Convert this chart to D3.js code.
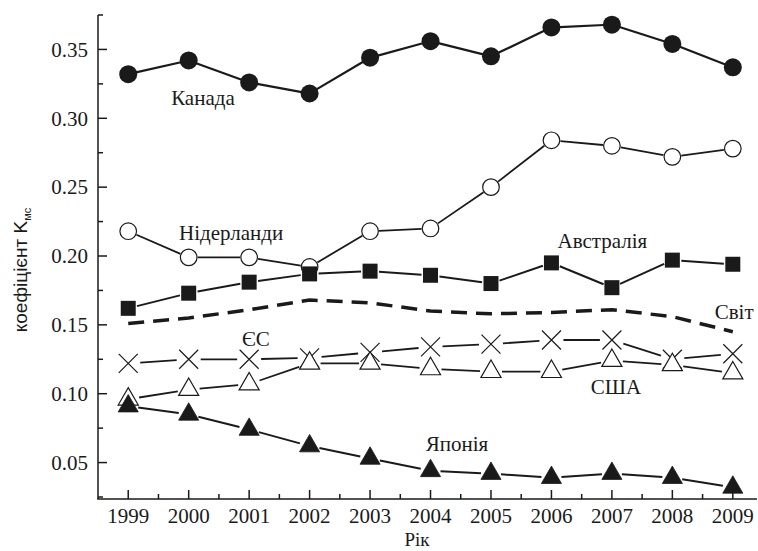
<!DOCTYPE html>
<html>
<head>
<meta charset="utf-8">
<script src="https://cdn.jsdelivr.net/npm/d3@7"></script>
<style>
  body { margin: 0; background: #fff; }
  svg { display: block; }
</style>
</head>
<body>
<svg id="chart" width="758" height="551"></svg>
<script>
// data
const years = [1999, 2000, 2001, 2002, 2003, 2004, 2005, 2006, 2007, 2008, 2009];
const canada      = [0.332, 0.342, 0.326, 0.318, 0.344, 0.356, 0.345, 0.366, 0.368, 0.354, 0.337];
const netherlands = [0.218, 0.199, 0.199, 0.192, 0.218, 0.220, 0.250, 0.284, 0.280, 0.272, 0.278];
const australia   = [0.162, 0.173, 0.181, 0.187, 0.189, 0.186, 0.180, 0.195, 0.177, 0.197, 0.194];
const world       = [0.151, 0.155, 0.161, 0.168, 0.166, 0.160, 0.158, 0.159, 0.161, 0.156, 0.145];
const eu          = [0.122, 0.125, 0.125, 0.126, 0.130, 0.134, 0.136, 0.139, 0.139, 0.125, 0.129];
const usa         = [0.096, 0.103, 0.107, 0.122, 0.122, 0.118, 0.116, 0.116, 0.124, 0.121, 0.115];
const japan       = [0.091, 0.085, 0.074, 0.062, 0.053, 0.044, 0.042, 0.039, 0.042, 0.039, 0.032];

const yTicks = [0.05, 0.10, 0.15, 0.20, 0.25, 0.30, 0.35];
const yMinorTicks = [0.025, 0.075, 0.125, 0.175, 0.225, 0.275, 0.325, 0.375];
const xMinorTicks = [1999.5, 2000.5, 2001.5, 2002.5, 2003.5, 2004.5, 2005.5, 2006.5, 2007.5, 2008.5];

// annotation anchors in data units (year, value)
const labelText = ["Канада", "Нідерланди", "Австралія", "Світ", "ЄС", "США", "Японія"];
const labelYear = [1999.71, 1999.84, 2006.1, 2008.7, 2000.88, 2006.65, 2003.92];
const labelVal  = [0.310, 0.2116, 0.2058, 0.1543, 0.1347, 0.0998, 0.0584];

const serif = "'Liberation Serif', 'Times New Roman', Times, serif";
const sans = "'Liberation Sans', Arial, sans-serif";
const ink = "#1a1a1a";

const svg = d3.select("#chart");

const x = d3.scaleLinear().domain([1998.5, 2009.4]).range([98, 757]);
const y = d3.scaleLinear().domain([0.025, 0.375]).range([497, 15]);
const axisY = 499;

// axes
const gAxis = svg.append("g").attr("stroke", ink).attr("stroke-width", 1.5);
gAxis.append("line").attr("x1", x(1998.5)).attr("x2", x(1998.5)).attr("y1", y(0.375)).attr("y2", axisY);
gAxis.append("line").attr("x1", x(1998.5) - 0.75).attr("x2", 757).attr("y1", axisY).attr("y2", axisY);

gAxis.selectAll(".ytick").data(yTicks).enter().append("line")
  .attr("x1", x(1998.5)).attr("x2", x(1998.5) + 9)
  .attr("y1", d => y(d)).attr("y2", d => y(d));
gAxis.selectAll(".yminor").data(yMinorTicks).enter().append("line")
  .attr("x1", x(1998.5)).attr("x2", x(1998.5) + 5)
  .attr("y1", d => y(d)).attr("y2", d => y(d));
gAxis.selectAll(".xtick").data(years).enter().append("line")
  .attr("x1", d => x(d)).attr("x2", d => x(d))
  .attr("y1", axisY).attr("y2", axisY - 9);
gAxis.selectAll(".xminor").data(xMinorTicks).enter().append("line")
  .attr("x1", d => x(d)).attr("x2", d => x(d))
  .attr("y1", axisY).attr("y2", axisY - 5);

svg.append("g").selectAll("text").data(yTicks).enter().append("text")
  .attr("x", 88).attr("y", d => y(d)).attr("dy", "0.35em")
  .attr("text-anchor", "end")
  .attr("font-family", serif).attr("font-size", 21).attr("fill", ink)
  .text(d => d3.format(".2f")(d));

svg.append("g").selectAll("text").data(years).enter().append("text")
  .attr("x", d => x(d)).attr("y", 523)
  .attr("text-anchor", "middle")
  .attr("font-family", serif).attr("font-size", 21).attr("fill", ink)
  .text(d => d);

svg.append("text").attr("x", 417).attr("y", 546)
  .attr("text-anchor", "middle")
  .attr("font-family", serif).attr("font-size", 19).attr("fill", ink)
  .text("Рік");

const yTitle = svg.append("text")
  .attr("transform", "translate(27,270) rotate(-90)")
  .attr("text-anchor", "middle")
  .attr("font-family", sans).attr("font-size", 19).attr("fill", ink);
yTitle.append("tspan").text("коефіцієнт K");
yTitle.append("tspan").attr("font-size", 11).attr("dy", 4).text("мс");

// series: line segments stop short of the markers (gap)
function segments(vals, gap) {
  const pts = years.map((yr, i) => [x(yr), y(vals[i])]);
  const out = [];
  for (let i = 0; i < pts.length - 1; i++) {
    const [x1, y1] = pts[i], [x2, y2] = pts[i + 1];
    const len = Math.hypot(x2 - x1, y2 - y1);
    if (len <= 2 * gap) continue;
    const ux = (x2 - x1) / len, uy = (y2 - y1) / len;
    out.push([x1 + ux * gap, y1 + uy * gap, x2 - ux * gap, y2 - uy * gap]);
  }
  return out;
}

function drawLine(vals, gap, width) {
  svg.append("g").attr("stroke", ink).attr("stroke-width", width)
    .selectAll("line").data(segments(vals, gap)).enter().append("line")
    .attr("x1", d => d[0]).attr("y1", d => d[1])
    .attr("x2", d => d[2]).attr("y2", d => d[3]);
}

function drawMarkers(vals, path, fill, strokeWidth) {
  svg.append("g").selectAll("path").data(vals).enter().append("path")
    .attr("transform", (d, i) => `translate(${x(years[i])},${y(d)})`)
    .attr("d", path)
    .attr("fill", fill)
    .attr("stroke", ink)
    .attr("stroke-width", strokeWidth);
}

const circle = d3.symbol(d3.symbolCircle, Math.PI * 9 * 9)();
const openCircle = d3.symbol(d3.symbolCircle, Math.PI * 8.3 * 8.3)();
const square = d3.symbol(d3.symbolSquare, 15 * 15)();
const triangle = d3.symbol(d3.symbolTriangle, 175)();
const cross = "M-9.5,-9.5L9.5,9.5M-9.5,9.5L9.5,-9.5";

// world (dashed)
svg.append("path")
  .datum(world)
  .attr("d", d3.line().x((d, i) => x(years[i])).y(d => y(d)))
  .attr("fill", "none")
  .attr("stroke", ink)
  .attr("stroke-width", 3.5)
  .attr("stroke-dasharray", "16,9");

drawLine(canada, 8, 2.2);
drawLine(netherlands, 9, 1.8);
drawLine(australia, 9, 2);
drawLine(eu, 12, 1.8);
drawLine(usa, 11, 1.8);
drawLine(japan, 10, 2);

drawMarkers(canada, circle, ink, 0);
drawMarkers(netherlands, openCircle, "#fff", 1.2);
drawMarkers(australia, square, ink, 0);
drawMarkers(eu, cross, "none", 1.2);
drawMarkers(usa, triangle, "#fff", 1.2);
drawMarkers(japan, triangle, ink, 0.8);

svg.append("g").selectAll("text").data(labelText).enter().append("text")
  .attr("x", (d, i) => x(labelYear[i]))
  .attr("y", (d, i) => y(labelVal[i]))
  .attr("font-family", serif).attr("font-size", 21).attr("fill", ink)
  .text(d => d);
</script>
</body>
</html>
